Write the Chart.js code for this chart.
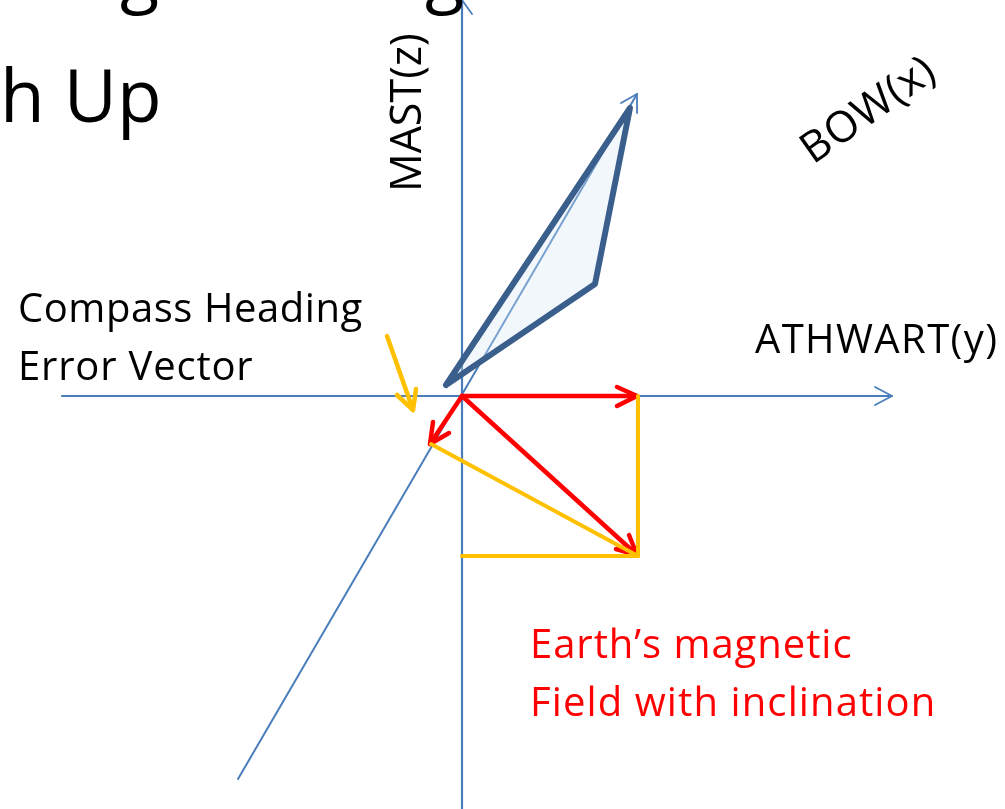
<!DOCTYPE html>
<html>
<head>
<meta charset="utf-8">
<title>Earth's magnetic field with inclination</title>
<script src="https://cdn.jsdelivr.net/npm/chart.js@4"></script>
<style>
    html, body { margin: 0; padding: 0; background: #fff; overflow: hidden; }
    canvas { display: block; }
</style>
</head>
<body>
<canvas id="chart" width="1005" height="809"></canvas>
<script>
// --- Diagram values ---
const mastAxis = [[462, 809], [462, 0]];
const mastHead = [[452, 14], [462, 0], [472, 14]];
const athwartAxis = [[62, 396], [892, 396]];
const athwartHead = [[875, 387], [892, 396], [875, 405]];
const bowAxis = [[238, 779], [637, 94]];
const bowHead = [[621, 103], [637, 94], [637, 113]];

const shipOutline = [[446, 385], [630, 108], [595, 284], [446, 385]];

const fieldY = [[462, 396], [637, 396]];
const fieldYHead = [[617, 387], [637, 396], [617, 406]];
const fieldX = [[462, 396], [430, 444]];
const fieldXHead = [[433, 422], [430, 444], [449, 433]];
const fieldTotal = [[462, 396], [637, 555]];
const fieldTotalHead = [[629, 535], [637, 555], [616, 549]];

const boxRight = [[638, 396], [638, 556]];
const boxBottom = [[462, 556], [638, 556]];
const boxDiagonal = [[431, 444], [638, 556]];
const errorVector = [[387, 336], [413, 410]];
const errorHead = [[397, 395], [413, 410], [416, 389]];

const labelTexts = ['g', 'g', 'h Up', 'MAST(z)', 'BOW(x)', 'ATHWART(y)', 'Compass Heading', 'Error Vector', 'Earth\u2019s magnetic', 'Field with inclination'];

// --- Styles ---
const BLUE = '#4a7ebb';
const SHIP = '#3a5f8c';
const RED = '#ff0000';
const YELLOW = '#ffc000';

const toPoints = (pairs) => pairs.map(([x, y]) => ({ x, y }));

const line = (pairs, color, width, extra = {}) => ({
    data: toPoints(pairs),
    borderColor: color,
    borderWidth: width,
    showLine: true,
    pointRadius: 0,
    tension: 0,
    borderCapStyle: 'round',
    borderJoinStyle: 'round',
    ...extra
});

// one style per entry of labelTexts
const labelStyles = [
    { x: 120, y: -1, size: 72, color: '#000' },
    { x: 425, y: -1, size: 72, color: '#000' },
    { x: 0, y: 122, size: 73, color: '#000' },
    { x: 421, y: 192, size: 43, color: '#000', angle: -90 },
    { x: 813, y: 165, size: 43, color: '#000', angle: -35, tracking: 0.8 },
    { x: 755, y: 353, size: 40, color: '#000', tracking: 1.4 },
    { x: 18, y: 322, size: 40, color: '#000', tracking: 0.55 },
    { x: 18, y: 380, size: 40, color: '#000', tracking: 0.8 },
    { x: 530, y: 658, size: 40, color: RED, tracking: 0.95 },
    { x: 530, y: 716, size: 40, color: RED, tracking: 1.1 }
];

// Labels are placed through the same scales as the lines
const textLabels = {
    id: 'textLabels',
    afterDatasetsDraw(chart) {
        const { ctx, scales } = chart;
        labelTexts.forEach((text, i) => {
            const s = labelStyles[i];
            ctx.save();
            ctx.translate(scales.x.getPixelForValue(s.x), scales.y.getPixelForValue(s.y));
            ctx.rotate((s.angle || 0) * Math.PI / 180);
            ctx.font = `${s.size}px "Open Sans"`;
            ctx.letterSpacing = `${s.tracking || 0}px`;
            ctx.fillStyle = s.color;
            ctx.textBaseline = 'alphabetic';
            ctx.fillText(text, 0, 0);
            ctx.restore();
        });
    }
};

// First dataset ends up on top
new Chart(document.getElementById('chart'), {
    type: 'scatter',
    data: {
        datasets: [
            line(boxRight, YELLOW, 4),
            line(boxBottom, YELLOW, 4),
            line(boxDiagonal, YELLOW, 4),
            line(errorVector, YELLOW, 4.5),
            line(errorHead, YELLOW, 4.5),
            line(fieldY, RED, 4.5),
            line(fieldYHead, RED, 4.5),
            line(fieldX, RED, 4.5),
            line(fieldXHead, RED, 4.5),
            line(fieldTotal, RED, 4.5),
            line(fieldTotalHead, RED, 4.5),
            line(shipOutline, SHIP, 6, { fill: 'shape', backgroundColor: 'rgba(217,232,245,0.34)' }),
            line(mastAxis, BLUE, 2.2),
            line(mastHead, BLUE, 1.8),
            line(athwartAxis, BLUE, 2.2),
            line(athwartHead, BLUE, 1.8),
            line(bowAxis, BLUE, 2),
            line(bowHead, BLUE, 1.8)
        ]
    },
    options: {
        responsive: false,
        animation: false,
        layout: { padding: 0 },
        plugins: { legend: { display: false }, tooltip: { enabled: false } },
        scales: {
            x: { type: 'linear', min: 0, max: 1005, display: false },
            y: { type: 'linear', min: 0, max: 809, reverse: true, display: false }
        }
    },
    plugins: [textLabels]
});
</script>
</body>
</html>
